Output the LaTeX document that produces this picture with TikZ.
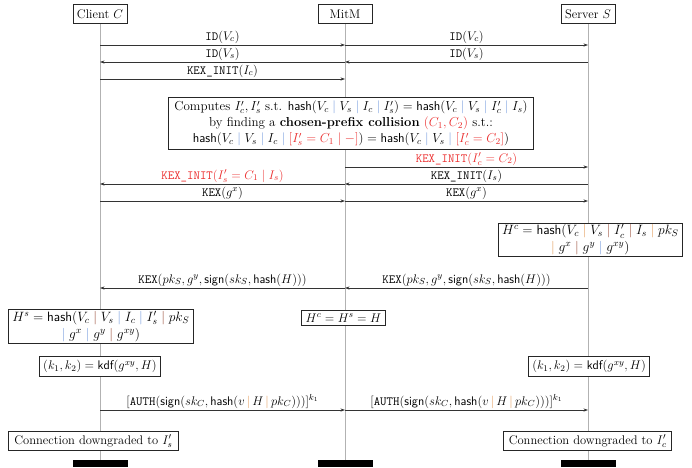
\RequirePackage{fix-cm}
\documentclass[tikz,border=0pt,12pt]{standalone}
\usepackage{fontspec}
\usetikzlibrary{arrows.meta}
\definecolor{myred}{RGB}{235,45,45}
\definecolor{barO}{RGB}{225,150,80}
\definecolor{barB}{RGB}{150,70,50}
\definecolor{barL}{RGB}{110,150,220}
\newcommand{\bo}{\mathrel{\textcolor{barO}{|}}}
\newcommand{\bb}{\mathrel{\textcolor{barB}{|}}}
\newcommand{\bl}{\mathrel{\textcolor{barL}{|}}}
\newcommand{\tbo}{\,\textcolor{barO}{|}\,}
\newcommand{\hsh}{\mathsf{hash}}
\newcommand{\sgn}{\mathsf{sign}}
\newcommand{\kdfn}{\mathsf{kdf}}
\begin{document}
\begin{tikzpicture}[x=1pt,y=-1pt,
  every node/.append style={font=\fontsize{12.5}{15}\selectfont},
  hdr/.style={draw=black!85,line width=0.8pt,fill=white,minimum width=54pt,minimum height=19pt,inner sep=2pt},
  endbar/.style={fill=black,minimum width=55pt,minimum height=7pt,inner sep=0pt},
  life/.style={draw=black!30,line width=0.9pt},
  msg/.style={draw=black!80,line width=0.7pt,-{Stealth[length=4.5pt,width=3.2pt]}},
  lbl/.style={midway,above,inner sep=1.5pt},
  box/.style={draw=black!85,line width=0.8pt,fill=white,inner xsep=4pt,inner ysep=3.5pt,align=center},
  hbox/.style={box,font=\fontsize{13.5}{17}\selectfont,inner xsep=4pt,inner ysep=1.5pt}]
\useasboundingbox (0,0) rectangle (692,467);

% headers and end bars
\node[hdr] (C) at (100,14) {Client $C$};
\node[hdr] (M) at (345,14) {MitM};
\node[hdr] (S) at (588,14) {Server $S$};
\node[endbar] (Cb) at (100,463.5) {};
\node[endbar] (Mb) at (345,463.5) {};
\node[endbar] (Sb) at (588,463.5) {};
\draw[life] (C.south) -- (Cb.north);
\draw[life] (M.south) -- (Mb.north);
\draw[life] (S.south) -- (Sb.north);

% lifeline points
\foreach \y in {45,62,79,167,184,201,288,410}{
  \coordinate (c\y) at (100,\y);
  \coordinate (m\y) at (345,\y);
  \coordinate (s\y) at (588,\y);
}

% messages
\draw[msg] (c45) -- (m45) node[lbl] {$\texttt{ID}(V_c)$};
\draw[msg] (m45) -- (s45) node[lbl] {$\texttt{ID}(V_c)$};
\draw[msg] (s62) -- (m62) node[lbl] {$\texttt{ID}(V_s)$};
\draw[msg] (m62) -- (c62) node[lbl] {$\texttt{ID}(V_s)$};
\draw[msg] (c79) -- (m79) node[lbl] {\texttt{KEX\_INIT}$(I_c)$};

\node[box,font=\fontsize{13}{16}\selectfont,inner xsep=6pt] (coll) at (351,123.5) {Computes $I'_c, I'_s$ s.t. $\hsh(V_c \bl V_s \bl I_c \bl I'_s) = \hsh(V_c \bl V_s \bl I'_c \bl I_s)$\\
by finding a \textbf{chosen-prefix collision} \textcolor{myred}{$(C_1, C_2)$} s.t.:\\
$\hsh(V_c \bl V_s \bl I_c \bl \textcolor{myred}{[I'_s = C_1 \mid -]}) = \hsh(V_c \bl V_s \bl \textcolor{myred}{[I'_c = C_2]})$};

\draw[msg] (m167) -- (s167) node[lbl,text=myred] {\texttt{KEX\_INIT}$(I'_c = C_2)$};
\draw[msg] (s184) -- (m184) node[lbl] {\texttt{KEX\_INIT}$(I_s)$};
\draw[msg] (m184) -- (c184) node[lbl,text=myred] {\texttt{KEX\_INIT}$(I'_s = C_1 \mid I_s)$};
\draw[msg] (c201) -- (m201) node[lbl] {$\texttt{KEX}(g^x)$};
\draw[msg] (m201) -- (s201) node[lbl] {$\texttt{KEX}(g^x)$};

\node[hbox,anchor=east] (Hc) at (683,240) {$H^c = \hsh(V_c \bo V_s \bb I'_c \bb I_s \bo pk_S$\\ $\bo g^x \bb g^y \bl g^{xy})$};

\draw[msg] (s288) -- (m288) node[lbl] {$\texttt{KEX}(pk_S, g^y, \sgn(sk_S, \hsh(H)))$};
\draw[msg] (m288) -- (c288) node[lbl] {$\texttt{KEX}(pk_S, g^y, \sgn(sk_S, \hsh(H)))$};

\node[hbox,anchor=west] (Hs) at (8,326.5) {$H^s = \hsh(V_c \bb V_s \bl I_c \bl I'_s \bb pk_S$\\ $\bl g^x \bl g^y \bb g^{xy})$};
\node[box] (Hm) at (343.5,318) {$H^c = H^s = H$};

\node[box] (kc) at (100,366.5) {$(k_1, k_2) = \kdfn(g^{xy}, H)$};
\node[box] (ks) at (589,366.5) {$(k_1, k_2) = \kdfn(g^{xy}, H)$};

\draw[msg] (c410) -- (m410) node[lbl] {$[\texttt{AUTH}(\sgn(sk_C, \hsh(v \tbo H \tbo pk_C)))]^{k_1}$};
\draw[msg] (m410) -- (s410) node[lbl] {$[\texttt{AUTH}(\sgn(sk_C, \hsh(v \tbo H \tbo pk_C)))]^{k_1}$};

\node[box,anchor=west,inner xsep=6pt] (dc) at (8,441) {Connection downgraded to $I'_s$};
\node[box,anchor=east,inner xsep=5pt] (ds) at (672,441) {Connection downgraded to $I'_c$};
\end{tikzpicture}
\end{document}
